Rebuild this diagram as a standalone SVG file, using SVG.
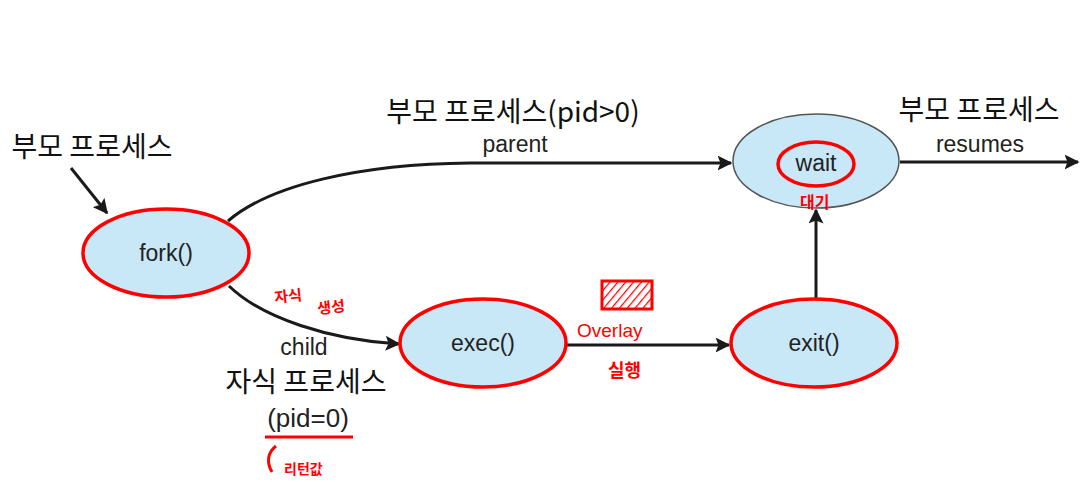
<svg xmlns="http://www.w3.org/2000/svg" width="1086" height="482" viewBox="0 0 1086 482">
<defs>
<style>
.node{fill:#c8e7f7;stroke:#ff0000;stroke-width:3.5}
.nodeg{fill:#c8e7f7;stroke:#555;stroke-width:1.5}
.lbl{font-family:"Liberation Sans",Arial,sans-serif;font-size:23px;fill:#222;text-anchor:middle}
.kr{font-family:"Noto Sans CJK KR","Noto Sans",sans-serif;font-size:28px;fill:#111;text-anchor:middle}
.edge{fill:none;stroke:#1a1a1a;stroke-width:3}
.red{font-family:"Noto Sans CJK KR",sans-serif;font-size:15px;fill:#ff0000;font-weight:bold}
.rline{fill:none;stroke:#ff0000;stroke-width:3}
</style>
<marker id="ah" viewBox="0 0 10 10" refX="9" refY="5" markerWidth="5" markerHeight="5" orient="auto" markerUnits="strokeWidth">
<path d="M0,0 L10,5 L0,10 L2,5 Z" fill="#1a1a1a"/>
</marker>
<pattern id="hatch" width="6" height="6" patternUnits="userSpaceOnUse" patternTransform="rotate(40)">
<rect width="6" height="6" fill="#fff"/>
<line x1="0" y1="0" x2="0" y2="6" stroke="#ff0000" stroke-width="2.5"/>
</pattern>
</defs>
<rect width="1086" height="482" fill="#fff"/>

<g id="connectors">
<path class="edge" d="M228,221 C270,185 360,164 470,163 L731,163" marker-end="url(#ah)"/>
<path class="edge" d="M900,162 L1078,162" marker-end="url(#ah)"/>
<path class="edge" d="M229,286 C262,318 330,340 399,344" marker-end="url(#ah)"/>
<path class="edge" d="M567,345 L729,345" marker-end="url(#ah)"/>
<path class="edge" d="M816,298 L816,210" marker-end="url(#ah)"/>
<path class="edge" d="M71,168 L107,213" marker-end="url(#ah)"/>
</g>

<g id="fork">
<ellipse class="node" cx="166" cy="253" rx="83" ry="44"/>
<text class="lbl" x="166" y="261">fork()</text>
</g>
<g id="exec">
<ellipse class="node" cx="483" cy="343" rx="83" ry="44"/>
<text class="lbl" x="483" y="351">exec()</text>
</g>
<g id="exit">
<ellipse class="node" cx="814" cy="343" rx="83" ry="44"/>
<text class="lbl" x="814" y="351">exit()</text>
</g>
<g id="wait">
<ellipse class="nodeg" cx="816" cy="161" rx="83" ry="47"/>
<ellipse fill="none" stroke="#ff0000" stroke-width="3.5" cx="816" cy="164" rx="38" ry="22"/>
<text class="lbl" x="816" y="171">wait</text>
</g>

<g id="labels">
<text class="kr" x="92" y="157">부모 프로세스</text>
<text class="kr" x="513" y="122">부모 프로세스(pid&gt;0)</text>
<text class="lbl" x="515" y="152">parent</text>
<text class="kr" x="979" y="120">부모 프로세스</text>
<text class="lbl" x="980" y="152">resumes</text>
<text class="lbl" x="304" y="355">child</text>
<text class="kr" x="306" y="392">자식 프로세스</text>
<text class="lbl" x="308" y="427" style="font-size:26px">(pid=0)</text>
</g>

<g id="annotations">
<text class="red" x="275" y="303" transform="rotate(-6 275 303)">자식</text>
<text class="red" x="318" y="314" transform="rotate(-6 318 314)">생성</text>
<rect x="602" y="281" width="50" height="28" fill="url(#hatch)" stroke="#ff0000" stroke-width="3"/>
<text class="red" x="577" y="337" style="font-family:'Liberation Sans',sans-serif;font-size:19px;font-weight:normal">Overlay</text>
<text class="red" x="608" y="377" style="font-size:18px">실행</text>
<text class="red" x="800" y="208" style="font-size:16px">대기</text>
<path class="rline" d="M265,437 L353,437"/>
<path class="rline" d="M276,446 C268,452 266,462 272,472"/>
<text class="red" x="284" y="474" style="font-size:14px">리턴값</text>
</g>
</svg>
